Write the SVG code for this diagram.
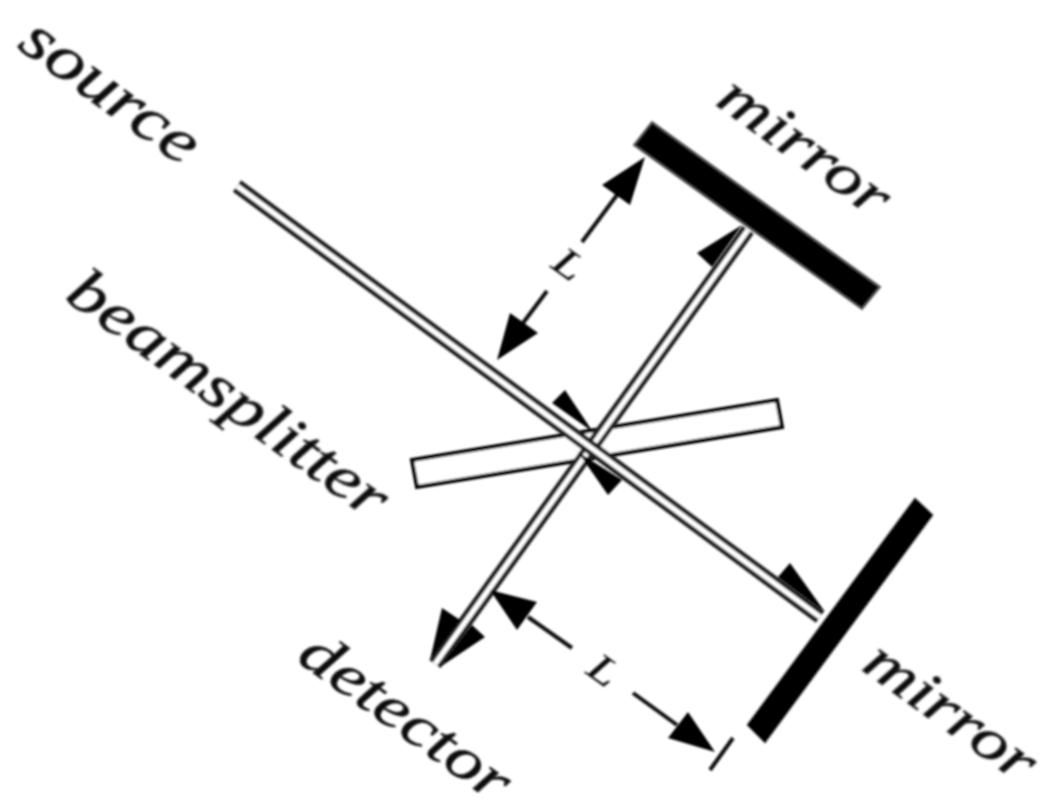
<svg xmlns="http://www.w3.org/2000/svg" width="1050" height="805" viewBox="0 0 1050 805">
<style>
.t{font-family:"Liberation Serif","DejaVu Serif",serif;font-style:italic;font-size:76px;fill:#111;stroke:#333;stroke-width:1px}
.l{font-size:50px;stroke-width:.6px}
.o{fill:none;stroke:#222;stroke-width:14}
.i{fill:none;stroke:#fff;stroke-width:5}
.d{fill:none;stroke:#111;stroke-width:4}
.h{fill:#000}
</style>
<defs><filter id="s" x="0" y="0" width="1050" height="805" filterUnits="userSpaceOnUse"><feGaussianBlur stdDeviation="0.8"/></filter></defs>
<rect width="1050" height="805" fill="#fff"/>
<g filter="url(#s)">
<g id="beamsplitter"><path fill="#fff" stroke="#000" stroke-width="4" d="M412 460L777 400L782 427L417 487Z"/>
<text class="t" transform="translate(63,299) rotate(35.8) scale(1,.8)">beamsplitter</text></g>
<g id="connectors">
<path class="o" d="M748 230L435 664"/><path class="i" d="M748 230L435 664"/>
<path class="o" d="M237 186L820 617"/><path class="i" d="M237 186L820 617"/>
<path class="h" d="M430 660L442 608L460 620Z"/>
<path class="h" d="M440 667L485 637L472 625Z"/>
<path class="h" d="M742 225L697 253L712 267Z"/>
<path class="h" d="M565 390L552 403L593 432Z"/>
<path class="h" d="M578 452L622 480L608 495Z"/>
<path class="h" d="M790 563L778 577L825 612Z"/>
<path class="d" d="M617 195L582 242"/><path class="h" d="M645 157L602 185L630 205Z"/>
<path class="d" d="M547 291L523 323"/><path class="h" d="M497 360L510 313L538 333Z"/>
<path class="d" d="M528 617L572 648"/><path class="h" d="M490 590L537 602L517 630Z"/>
<path class="d" d="M633 693L677 725"/><path class="h" d="M715 752L688 712L668 738Z"/>
<path class="d" d="M733 738L710 770"/>
</g>
<g id="mirror-top"><path fill="#000" stroke="#555" stroke-width="2" d="M652 122L880 287L862 309L634 145Z"/>
<text class="t" style="font-size:75px" transform="translate(714,104) rotate(35.8) scale(1,.8)">mirror</text></g>
<g id="mirror-right"><path fill="#000" stroke="#333" stroke-width="1" d="M915 498L933 515L765 743L747 725Z"/>
<text class="t" style="font-size:75px" transform="translate(860,669) rotate(35.8) scale(1,.8)">mirror</text></g>
<g id="source"><text class="t" style="font-size:78px" transform="translate(16,47) rotate(35.8) scale(1,.8)">source</text></g>
<g id="detector"><text class="t" style="font-size:75px" transform="translate(295,660) rotate(35.8) scale(1,.8)">detector</text></g>
<g id="length-labels">
<text class="t l" text-anchor="middle" transform="translate(561,275) rotate(36) scale(1,.8)">L</text>
<text class="t l" text-anchor="middle" transform="translate(596,681) rotate(36) scale(1,.8)">L</text>
</g>
</g>
</svg>
